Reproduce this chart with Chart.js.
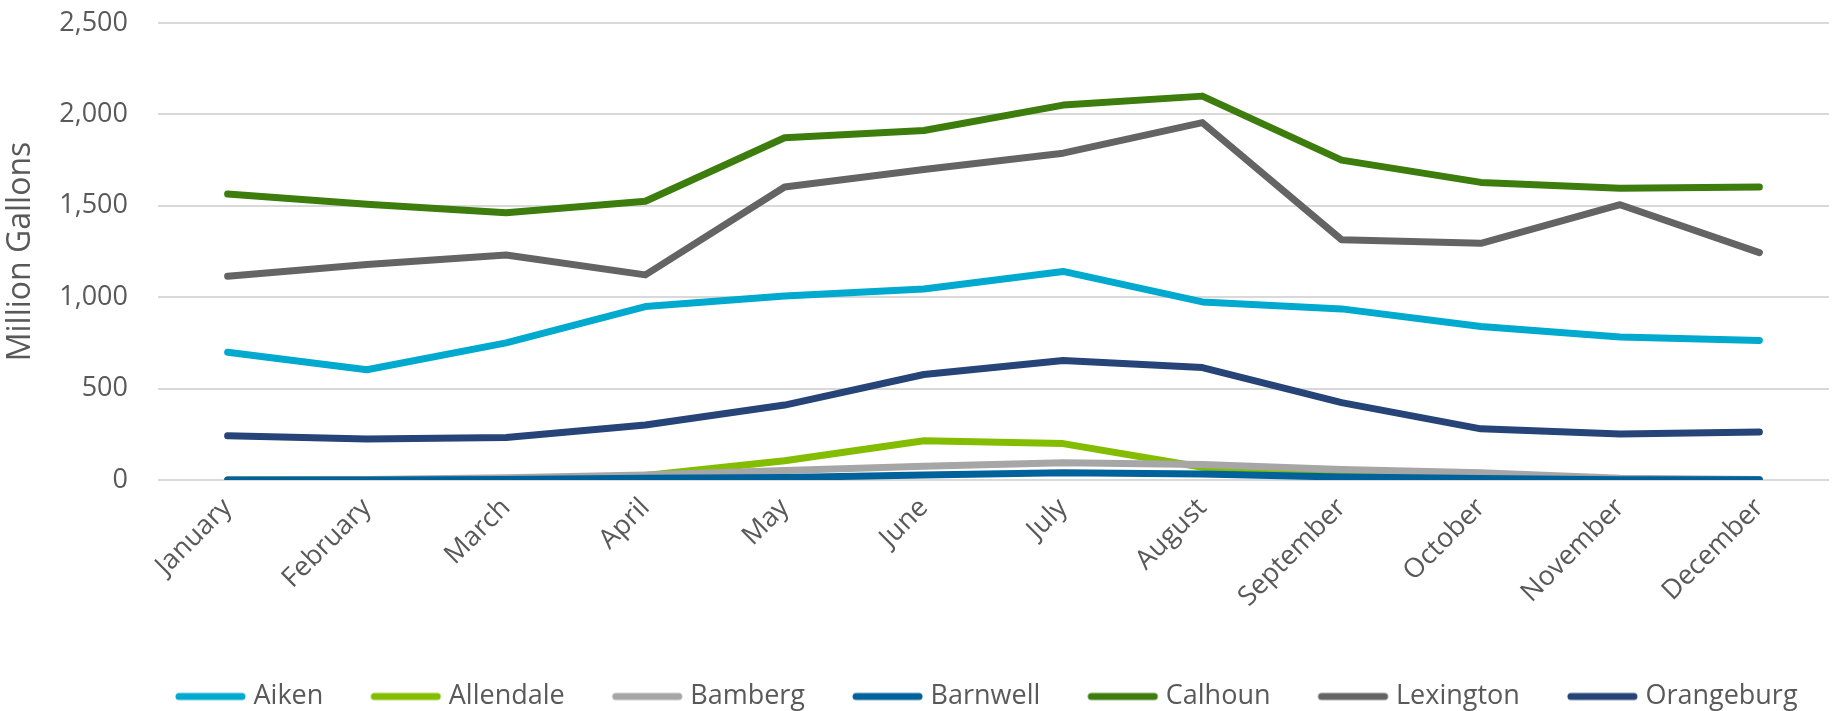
<!DOCTYPE html>
<html>
<head>
<meta charset="utf-8">
<script src="https://cdn.jsdelivr.net/npm/chart.js@4/dist/chart.umd.min.js"></script>
<style>
  html, body { margin: 0; padding: 0; background: #ffffff; }
  #wrap { width: 1833px; height: 711px; }
</style>
</head>
<body>
<div id="wrap"><canvas id="c" width="1833" height="711"></canvas></div>
<script>
const months = ["January","February","March","April","May","June","July","August","September","October","November","December"];
const seriesNames = ["Aiken","Allendale","Bamberg","Barnwell","Calhoun","Lexington","Orangeburg"];
const aiken      = [699, 603, 750, 949, 1006, 1045, 1141, 974, 936, 840, 782, 763];
const allendale  = [0, 0, 0, 25, 105, 215, 199, 70, 30, 10, 0, 0];
const bamberg    = [0, 3, 12, 28, 52, 75, 95, 85, 58, 40, 10, 3];
const barnwell   = [0, 0, 3, 10, 14, 27, 40, 33, 16, 8, 2, 2];
const calhoun    = [1564, 1508, 1462, 1525, 1872, 1912, 2051, 2100, 1750, 1628, 1596, 1603];
const lexington  = [1115, 1179, 1231, 1122, 1603, 1699, 1788, 1955, 1314, 1295, 1506, 1244];
const orangeburg = [242, 224, 232, 301, 410, 577, 654, 615, 423, 280, 252, 262];
const colors = ["#00A9CE", "#84BD00", "#A6A6A6", "#00629B", "#3C7D0E", "#646464", "#264478"];
const yTitle = "Million Gallons";

const values = [aiken, allendale, bamberg, barnwell, calhoun, lexington, orangeburg];
const datasets = values.map((v, i) => ({
  label: seriesNames[i],
  data: v,
  borderColor: colors[i],
  backgroundColor: colors[i],
  borderWidth: 7,
  borderCapStyle: 'round',
  borderJoinStyle: 'round',
  pointRadius: 0,
  pointHoverRadius: 0,
  tension: 0,
  fill: false,
  order: values.length - i
}));

const FONT = "'Open Sans', sans-serif";
const TXT = "#595959";

// legend swatch: a thick rounded line, offset so it sits close to its label
function swatch(color) {
  const c = document.createElement('canvas');
  c.width = 84; c.height = 12;
  const g = c.getContext('2d');
  g.strokeStyle = color;
  g.lineWidth = 7;
  g.lineCap = 'round';
  g.beginPath();
  g.moveTo(14, 6);
  g.lineTo(77, 6);
  g.stroke();
  return c;
}
const swatches = colors.map(swatch);

// Keep the legend compact vertically and place its single row like the original
const legendPlacePlugin = {
  id: 'legendPlace',
  beforeLayout(chart) {
    const lg = chart.legend;
    if (lg && !lg._patchedFit) {
      const orig = lg.fit.bind(lg);
      lg.fit = function () { orig(); this.height = 74; };
      lg._patchedFit = true;
    }
  },
  beforeDraw(chart) {
    const lg = chart.legend;
    if (lg) {
      lg.left = 128;
      lg.right = 1900;
    }
  }
};

new Chart(document.getElementById('c'), {
  type: 'line',
  data: { labels: months, datasets },
  plugins: [legendPlacePlugin],
  options: {
    responsive: false,
    animation: false,
    layout: { padding: { left: 0, right: 4, top: 23, bottom: 0 } },
    plugins: {
      tooltip: { enabled: false },
      legend: {
        position: 'bottom',
        align: 'start',
        fullSize: true,
        labels: {
          usePointStyle: true,
          pointStyleWidth: 66,
          padding: 46,
          color: TXT,
          font: { family: FONT, size: 27 },
          sort: (a, b) => a.datasetIndex - b.datasetIndex,
          generateLabels: (chart) =>
            Chart.defaults.plugins.legend.labels.generateLabels(chart)
              .map(l => Object.assign(l, { pointStyle: swatches[l.datasetIndex] }))
        }
      }
    },
    scales: {
      x: {
        offset: true,
        grid: { display: false, drawTicks: false },
        border: { display: false },
        ticks: {
          color: TXT,
          font: { family: FONT, size: 27 },
          minRotation: 45,
          maxRotation: 45,
          padding: 12,
          autoSkip: false
        },
        afterFit: (s) => { s.height = 157; }
      },
      y: {
        min: 0,
        max: 2500,
        grid: { color: '#D9D9D9', lineWidth: 2, drawTicks: true, tickLength: 28, tickColor: 'rgba(0,0,0,0)' },
        border: { display: false },
        ticks: {
          stepSize: 500,
          color: TXT,
          font: { family: FONT, size: 27 },
          padding: 2,
          callback: (v) => v.toLocaleString('en-US')
        },
        title: {
          display: true,
          text: yTitle,
          color: TXT,
          font: { family: FONT, size: 32 },
          padding: { top: 2, bottom: 0 }
        },
        afterFit: (s) => { s.width = 158; }
      }
    }
  }
});
</script>
</body>
</html>
